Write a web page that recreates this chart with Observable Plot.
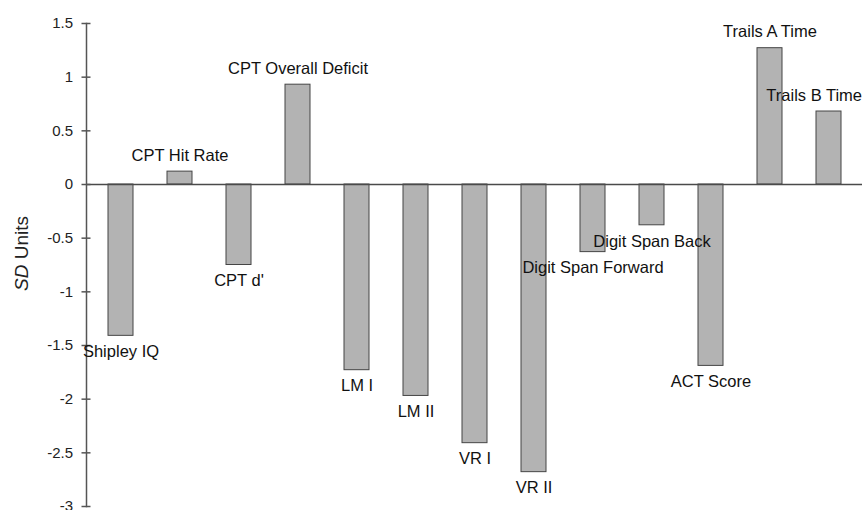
<!DOCTYPE html>
<html>
<head>
<meta charset="utf-8">
<script src="https://cdn.jsdelivr.net/npm/d3@7"></script>
<script src="https://cdn.jsdelivr.net/npm/@observablehq/plot@0.6"></script>
<style>
  html, body { margin: 0; padding: 0; background: #fff; overflow: hidden; }
</style>
</head>
<body>
<div id="chart"></div>
<script>
const categories = ["Shipley IQ", "CPT Hit Rate", "CPT d'", "CPT Overall Deficit", "LM I", "LM II", "VR I", "VR II", "Digit Span Forward", "Digit Span Back", "ACT Score", "Trails A Time", "Trails B Time"];
const values = [-1.41, 0.12, -0.75, 0.93, -1.73, -1.97, -2.41, -2.68, -0.63, -0.38, -1.69, 1.27, 0.68];
const yTicks = [1.5, 1, 0.5, 0, -0.5, -1, -1.5, -2, -2.5, -3];
const yTitle = "SD Units";

const data = categories.map((c, i) => ({category: c, value: values[i]}));
const last = categories[categories.length - 1];
const posLabels = data.filter(d => d.value >= 0 && d.category !== last);
const negLabels = data.filter(d => d.value < 0);
const edgeLabels = data.filter(d => d.category === last);

const font = "'Liberation Sans', Arial, Helvetica, sans-serif";

const chart = Plot.plot({
  width: 867,
  height: 510,
  marginLeft: 86,
  marginRight: 5,
  marginTop: 23,
  marginBottom: 4,
  style: {fontFamily: font, background: "#fff", color: "#222", overflow: "visible"},
  x: {domain: categories, paddingInner: 0.58, paddingOuter: 0.29, axis: null},
  y: {domain: [-3, 1.5], axis: null},
  marks: [
    Plot.barY(data, {x: "category", y: "value", fill: "#b3b3b3", stroke: "#454545", strokeWidth: 1}),
    Plot.ruleY([0], {stroke: "#4a4a4a", strokeWidth: 1.5}),
    Plot.frame({anchor: "left", stroke: "#555", strokeWidth: 1.5}),
    Plot.axisY({ticks: yTicks, tickSize: 9, dx: 4.5, tickPadding: 9, tickFormat: d => String(d), fontSize: 15, stroke: "#555", strokeWidth: 1.5, fill: "#222", label: null}),
    Plot.text(posLabels, {x: "category", y: "value", text: "category", dy: -16, fontSize: 16.5, fill: "#111"}),
    Plot.text(negLabels, {x: "category", y: "value", text: "category", dy: 16, fontSize: 16.5, fill: "#111"}),
    Plot.text(edgeLabels, {x: "category", y: "value", text: "category", dy: -16, dx: 33, textAnchor: "end", fontSize: 16.5, fill: "#111"}),
    Plot.text([yTitle], {text: d => d, frameAnchor: "left", rotate: -90, textAnchor: "middle", dx: -65, dy: -11.5, fontSize: 19, fill: "#222"})
  ]
});

document.getElementById("chart").appendChild(chart);

// italicize "SD" in the axis title
d3.select(chart).selectAll("text").filter(function () { return this.textContent === yTitle; })
  .each(function () {
    const t = d3.select(this);
    t.text("");
    t.attr("text-anchor", "middle");
    t.append("tspan").attr("font-style", "italic").text("SD");
    t.append("tspan").text(" Units");
  });
</script>
</body>
</html>
